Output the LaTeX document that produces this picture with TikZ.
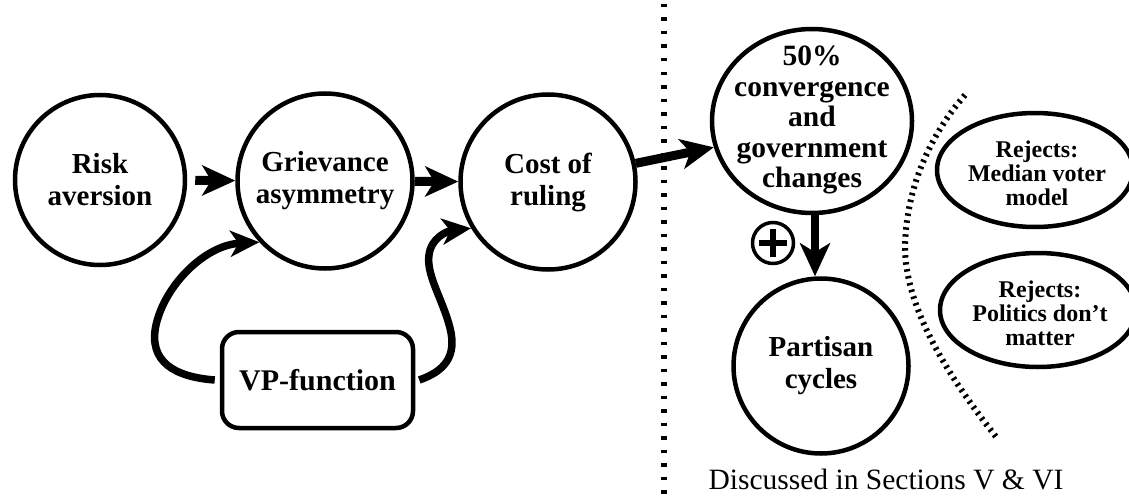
\documentclass[tikz,border=0pt]{standalone}
\usepackage{fontspec}
\setmainfont{Liberation Serif}
\usetikzlibrary{arrows.meta,shapes.geometric}
\begin{document}
\begin{tikzpicture}[x=1pt,y=-1pt,
  bubble/.style={circle,draw,line width=4.5pt,inner sep=0pt,align=center,font=\fontsize{29}{32}\selectfont\bfseries},
  ovalshape/.style={ellipse,draw,line width=4.5pt,inner sep=0pt},
  ovaltext/.style={align=center,inner sep=0pt,font=\fontsize{24}{24}\selectfont\bfseries},
  bigtext/.style={align=center,inner sep=0pt,font=\fontsize{29.5}{30.5}\selectfont\bfseries},
  vpbox/.style={rectangle,rounded corners=17pt,draw,line width=4.5pt,inner sep=0pt,minimum width=191pt,minimum height=96pt,font=\fontsize{30}{32}\selectfont\bfseries},
  arr/.style={line width=9pt,-{Stealth[length=33pt,width=30pt,inset=9pt]}},
  carr/.style={line width=7.5pt,-{Stealth[length=29pt,width=26pt,inset=8pt]}},
  sepline/.style={line width=6pt,dash pattern=on 3.5pt off 10pt},
  bracket/.style={line width=6pt,dash pattern=on 2.5pt off 4.5pt}
]
\useasboundingbox (0,0) rectangle (1129,495);

% separator
\coordinate (septop) at (664,4);
\coordinate (sepbot) at (664,500);
\draw[sepline] (septop) -- (sepbot);

% main nodes
\node[bubble,minimum size=170pt] (risk) at (100,180) {Risk\\aversion};
\node[bubble,minimum size=175pt] (griev) at (325,181) {Grievance\\asymmetry};
\node[bubble,minimum size=175pt] (cost) at (548,182) {Cost of\\ruling};
\node[ovalshape,minimum width=200pt,minimum height=184pt] (conv) at (812,121) {};
\node[bigtext] (convt) at (812,120) {50\%\\convergence\\and\\government\\changes};
\node[bubble,minimum size=175pt] (part) at (821,366) {Partisan\\cycles};
\node[vpbox] (vp) at (317.5,380) {VP-function};

\node[ovalshape,minimum width=196pt,minimum height=114pt] (med) at (1035,170) {};
\node[ovaltext] (medt) at (1037,173) {Rejects:\\Median voter\\model};
\node[ovalshape,minimum width=196pt,minimum height=114pt] (pol) at (1038,310) {};
\node[ovaltext] (polt) at (1040,313) {Rejects:\\Politics don’t\\matter};

% plus sign
\node[circle,draw,line width=3.5pt,minimum size=41pt,inner sep=0pt] (plus) at (773,243) {};
\draw[line width=6pt] ([xshift=-14pt]plus.center) -- ([xshift=14pt]plus.center);
\draw[line width=6pt] ([yshift=-14pt]plus.center) -- ([yshift=14pt]plus.center);

% straight arrows
\draw[arr,shorten <=8pt] (risk) -- (griev);
\draw[arr] (griev) -- (cost);
\draw[arr] (cost.12) -- (conv.195);
\draw[arr,line width=8pt] ([xshift=3pt]conv.south) -- ([xshift=-6pt]part.north);

% curved arrows from VP-function
\draw[carr] ([xshift=-5pt]vp.west) .. controls (175,377) and (148,362) .. (156,325)
  .. controls (165,285) and (205,245) .. (griev.223);
\draw[carr] ([xshift=4pt]vp.east) .. controls (445,371) and (457,356) .. (450,328)
  .. controls (443,300) and (426,275) .. (429,255)
  .. controls (431,238) and (447,231) .. (cost.211);

% dotted bracket
\draw[bracket] (965,95) .. controls (930,135) and (905,190) .. (905,250)
  .. controls (907,315) and (955,385) .. (997,438);

% note
\node[anchor=base,inner sep=0pt,font=\fontsize{29.5}{30}\selectfont] (note) at (886,489) {Discussed in Sections V \& VI};
\end{tikzpicture}
\end{document}
